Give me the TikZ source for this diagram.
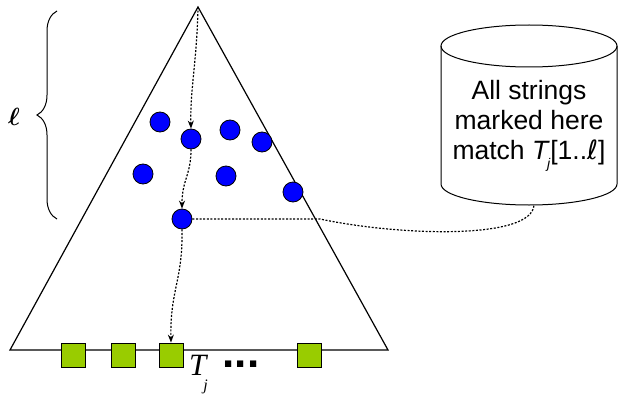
\documentclass[tikz,border=0pt]{standalone}
\usepackage{bm}
\usepackage{fontspec}
\setmainfont{Liberation Sans}
\newfontfamily\serifit{Liberation Serif}
\newfontfamily\dvs{DejaVu Sans}
\usetikzlibrary{decorations.pathreplacing,arrows.meta}
\definecolor{leafgreen}{RGB}{153,204,0}
\begin{document}
\begin{tikzpicture}[x=1pt,y=-1pt,
  dot/.style={circle,draw=black,fill=blue,minimum size=20pt,inner sep=0pt,line width=0.8pt},
  leaf/.style={rectangle,draw=black,fill=leafgreen,minimum size=24pt,inner sep=0pt,line width=0.8pt},
  walk/.style={line width=1.2pt,dash pattern=on 2pt off 1.6pt,-{Stealth[length=8pt,width=6pt]}},
  link/.style={line width=1.2pt,dash pattern=on 2pt off 1.6pt},
  outline/.style={line width=1.2pt}]
\useasboundingbox (0,0) rectangle (628,393);
% triangle
\coordinate (apex) at (198,7);
\coordinate (bl) at (10,350);
\coordinate (br) at (388,350);
\draw[outline] (bl) -- (apex) -- (br) -- cycle;
% marked nodes
\node[dot] (c1) at (160,122) {};
\node[dot] (c2) at (191,139) {};
\node[dot] (c3) at (230,130) {};
\node[dot] (c4) at (262,142) {};
\node[dot] (c5) at (143,174) {};
\node[dot] (c6) at (226,176) {};
\node[dot] (c7) at (293,192) {};
\node[dot] (c8) at (182,219) {};
% leaves
\node[leaf] (s1) at (73,355) {};
\node[leaf] (s2) at (123,355) {};
\node[leaf] (s3) at (171,355) {};
\node[leaf] (s4) at (309,355) {};
% labels
\node[anchor=base west,inner sep=0pt] (T) at (189,375) {\serifit\itshape\fontsize{31}{31}\selectfont T\kern-3pt\raisebox{-15pt}{\fontsize{16}{16}\selectfont j}};
\node[anchor=base,inner sep=0pt] (dots) at (241,367) {\bfseries\fontsize{44}{44}\selectfont ...};
% path arrows
\draw[walk] (apex) .. controls (197,60) and (190,90) .. (c2.north);
\draw[walk] (c2.south) .. controls (191,175) and (182,180) .. (c8.north);
\draw[walk] (c8.south) .. controls (183,280) and (170,290) .. (s3.north);
% ell and brace
\node (lbl) at (14,117) {\fontsize{26}{26}\selectfont$\bm{\ell}$};
\draw[decorate,decoration={brace,amplitude=20pt},line width=1pt] (57,219) -- (57,11);
% cylinder
\draw[line width=1pt] (529,46) ellipse [x radius=88pt, y radius=21pt];
\draw[line width=1pt] (441,46) -- (441,184) arc[start angle=180,end angle=360,x radius=88pt,y radius=21pt] -- (617,46);
\node[align=center,font=\fontsize{26.5}{30}\selectfont] (db) at (529,126) {All strings\\marked here\\match {\itshape T}\kern-1pt\raisebox{-9pt}{\itshape\fontsize{14}{14}\selectfont j}[1..{\dvs ℓ}]};
\coordinate (dbbot) at (534,205);
\draw[link] (c8.east) -- (320,219) .. controls (400,236) and (532,240) .. (dbbot);
\end{tikzpicture}
\end{document}
